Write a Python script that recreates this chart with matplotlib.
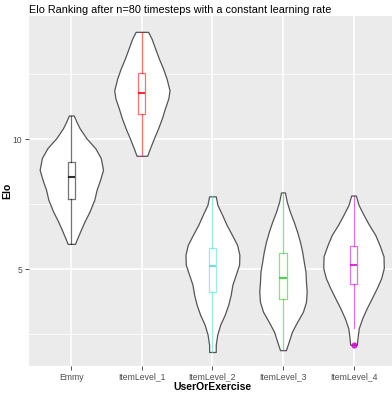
import numpy as np
import matplotlib
matplotlib.use("Agg")
import matplotlib.pyplot as plt
from matplotlib.ticker import MultipleLocator

plt.rcParams['font.family'] = ['Liberation Sans', 'DejaVu Sans']

categories = ['Emmy', 'ItemLevel_1', 'ItemLevel_2', 'ItemLevel_3', 'ItemLevel_4']
colors = ['#000000', '#FF0000', '#40E0D0', '#22CC22', '#CD00CD']

# violin outlines: Elo values and half-widths (in category units)
emmy_elo = [5.97, 6.13, 6.45, 6.84, 7.22, 7.67, 8.05, 8.43, 8.82, 9.27, 9.65, 10.04, 10.42, 10.68, 10.91]
emmy_hw = [0.052, 0.075, 0.125, 0.188, 0.259, 0.326, 0.358, 0.407, 0.449, 0.418, 0.340, 0.212, 0.118, 0.071, 0.035]

lvl1_elo = [9.36, 9.64, 10.03, 10.41, 10.80, 11.18, 11.57, 11.88, 12.33, 12.72, 13.10, 13.49, 13.87, 14.13]
lvl1_hw = [0.075, 0.113, 0.170, 0.229, 0.283, 0.326, 0.375, 0.392, 0.350, 0.300, 0.241, 0.188, 0.137, 0.088]

lvl2_elo = [1.81, 2.09, 2.47, 2.86, 3.24, 3.63, 4.01, 4.40, 4.78, 5.17, 5.55, 5.93, 6.32, 6.70, 7.09, 7.47, 7.80]
lvl2_hw = [0.047, 0.047, 0.068, 0.110, 0.174, 0.224, 0.259, 0.283, 0.330, 0.378, 0.382, 0.350, 0.276, 0.201, 0.137, 0.071, 0.047]

lvl3_elo = [1.88, 2.20, 2.59, 2.97, 3.36, 3.74, 4.13, 4.51, 4.90, 5.28, 5.67, 6.05, 6.43, 6.82, 7.20, 7.59, 7.95]
lvl3_hw = [0.042, 0.081, 0.127, 0.201, 0.283, 0.326, 0.336, 0.326, 0.319, 0.295, 0.272, 0.241, 0.201, 0.153, 0.099, 0.054, 0.028]

lvl4_elo = [2.09, 2.41, 2.73, 3.12, 3.50, 3.88, 4.27, 4.65, 5.04, 5.49, 5.93, 6.32, 6.70, 7.09, 7.47, 7.83]
lvl4_hw = [0.047, 0.059, 0.075, 0.125, 0.188, 0.259, 0.330, 0.392, 0.429, 0.425, 0.368, 0.307, 0.220, 0.142, 0.071, 0.033]

# box summaries
q1 = [7.69, 10.95, 4.10, 3.83, 4.43]
med = [8.54, 11.76, 5.10, 4.67, 5.14]
q3 = [9.12, 12.56, 5.83, 5.63, 5.90]
whis_lo = [5.97, 9.36, 1.81, 1.88, 2.73]
whis_hi = [10.91, 14.13, 7.80, 7.95, 7.83]
outliers = [[], [], [], [], [2.09]]

profiles = [(emmy_elo, emmy_hw), (lvl1_elo, lvl1_hw), (lvl2_elo, lvl2_hw),
            (lvl3_elo, lvl3_hw), (lvl4_elo, lvl4_hw)]

fig = plt.figure(figsize=(3.92, 3.97), dpi=100)
ax = fig.add_axes([29 / 392, 1 - 366 / 397, 1 - 29 / 392, 350 / 397])
ax.set_facecolor('#EBEBEB')
for s in ax.spines.values():
    s.set_visible(False)

pos = np.arange(1, len(categories) + 1)

vpstats = []
widths = []
for elo, hw in profiles:
    elo = np.array(elo)
    hw = np.array(hw)
    vpstats.append({'coords': elo, 'vals': hw, 'mean': elo.mean(), 'median': np.median(elo),
                    'min': elo.min(), 'max': elo.max()})
    widths.append(2 * hw.max())

parts = ax.violin(vpstats, positions=pos, widths=widths, showmeans=False,
                  showextrema=False, showmedians=False)
for body in parts['bodies']:
    body.set_facecolor('white')
    body.set_edgecolor('#555555')
    body.set_linewidth(0.9)
    body.set_alpha(1)
    body.set_zorder(2)

for i in range(len(categories)):
    st = [{'med': med[i], 'q1': q1[i], 'q3': q3[i], 'whislo': whis_lo[i],
           'whishi': whis_hi[i], 'fliers': outliers[i]}]
    c = colors[i]
    ax.bxp(st, positions=[pos[i]], widths=0.1, showcaps=False, patch_artist=False,
           boxprops=dict(color=c, alpha=0.55, linewidth=0.9),
           whiskerprops=dict(color=c, alpha=0.55, linewidth=0.9),
           medianprops=dict(color=c, alpha=0.8, linewidth=1.5),
           flierprops=dict(marker='o', markerfacecolor=c, markeredgecolor=c,
                           markersize=3.5, alpha=0.75),
           zorder=3)

ax.set_xlim(0.4, 0.4 + (392 - 29) / 70.55)
ax.set_ylim(1.27, 14.74)
ax.set_xticks(pos)
ax.set_xticklabels(categories)
ax.yaxis.set_major_locator(MultipleLocator(5))
ax.yaxis.set_minor_locator(MultipleLocator(2.5))
ax.grid(which='major', color='white', linewidth=1.1, zorder=0)
ax.grid(which='minor', axis='y', color='white', linewidth=0.55, zorder=0)
ax.set_axisbelow(True)
ax.tick_params(axis='both', which='major', labelsize=6.2, labelcolor='#4D4D4D',
               color='#333333', length=2.7, width=0.6, pad=2)
ax.tick_params(axis='y', which='minor', length=0)

ax.set_xlabel('UserOrExercise', fontsize=7.5, fontweight='bold')
ax.xaxis.set_label_coords((212 - 29) / (392 - 29), -0.045)
ax.set_ylabel('Elo', fontsize=7.5, fontweight='bold')
ax.yaxis.set_label_coords((12 - 29) / (392 - 29), 0.5)

fig.text(29 / 392, 1 - 13 / 397, 'Elo Ranking after n=80 timesteps with a constant learning rate',
         fontsize=7.8, ha='left', va='baseline')

fig.savefig('out.png', dpi=100)
